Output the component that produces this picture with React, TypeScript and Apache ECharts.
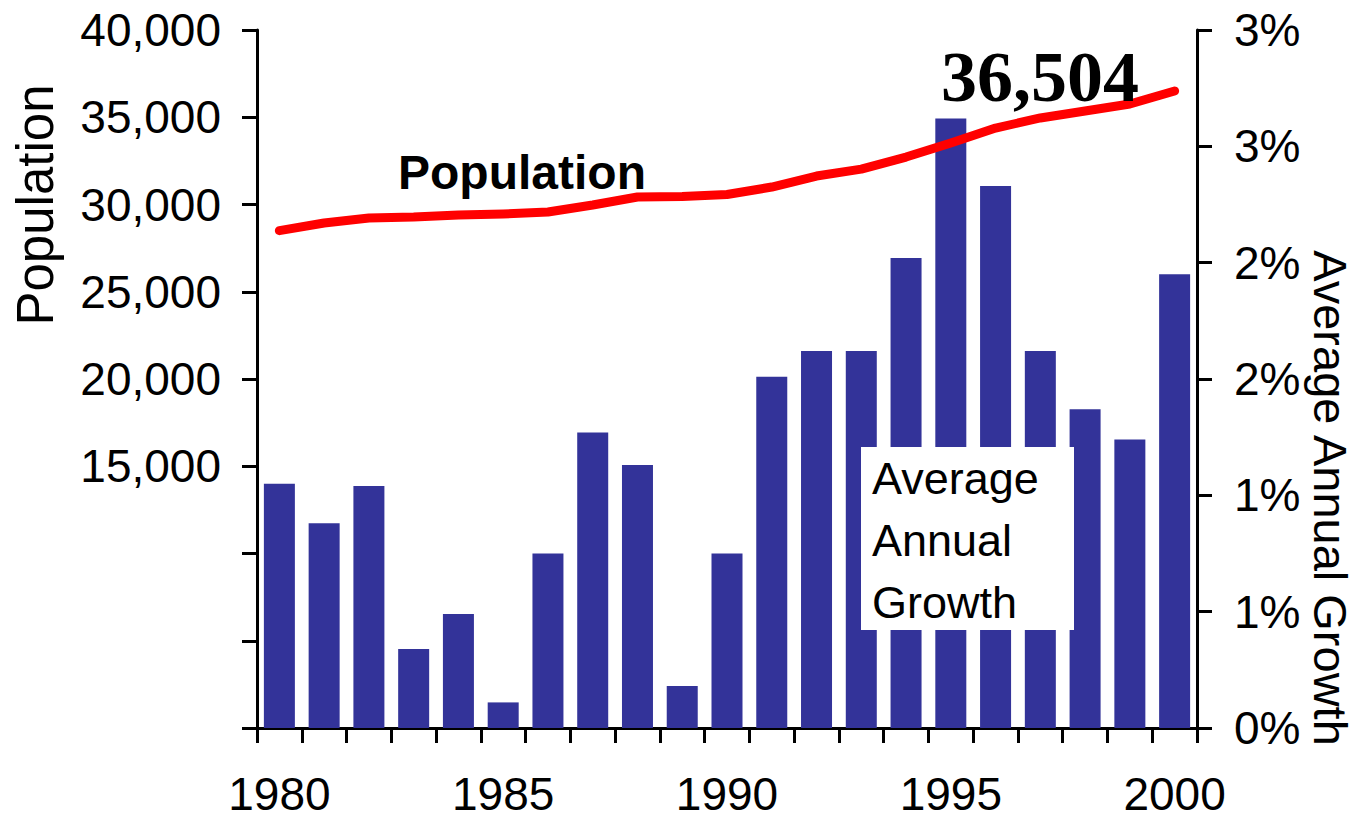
import React, { useEffect, useRef } from "react";
import * as echarts from "echarts";

const years = [
  "1980", "1981", "1982", "1983", "1984", "1985", "1986", "1987", "1988", "1989", "1990",
  "1991", "1992", "1993", "1994", "1995", "1996", "1997", "1998", "1999", "2000",
];
const population = [
  28500, 28940, 29230, 29280, 29400, 29460, 29570, 29970, 30430, 30460, 30570,
  31000, 31630, 32030, 32720, 33520, 34380, 34960, 35360, 35760, 36504,
];
const growth = [
  1.05, 0.88, 1.04, 0.34, 0.49, 0.11, 0.75, 1.27, 1.13, 0.18, 0.75,
  1.51, 1.62, 1.62, 2.02, 2.62, 2.33, 1.62, 1.37, 1.24, 1.95,
];
const popTitle = "Population";
const growthTitle = "Average Annual Growth";
const popAnnotation = "Population";
const lastValueLabel = "36,504";
const boxLines = ["Average", "Annual", "Growth"];

const SANS = "'Liberation Sans', Arial, sans-serif";
const SERIF = "'Liberation Serif', 'Times New Roman', serif";

function withCommas(v: number): string {
  return String(v).replace(/\B(?=(\d{3})+(?!\d))/g, ",");
}

export default function App() {
  const ref = useRef<HTMLDivElement>(null);
  useEffect(() => {
    if (!ref.current) return;
    const chart = echarts.init(ref.current, null, { renderer: "svg" });
    const axisLine = { show: true, lineStyle: { color: "#000", width: 3 } };
    const axisTick = { show: true, length: 15, lineStyle: { color: "#000", width: 3 } };
    chart.setOption({
      animation: false,
      backgroundColor: "#fff",
      grid: { left: 257, right: 160, top: 30, bottom: 91, containLabel: false },
      xAxis: {
        type: "category",
        data: years,
        boundaryGap: true,
        axisLine,
        axisTick: { ...axisTick, interval: 0 },
        axisLabel: {
          interval: 4,
          margin: 46,
          lineHeight: 40,
          color: "#000",
          fontFamily: SANS,
          fontSize: 46,
        },
        splitLine: { show: false },
      },
      yAxis: [
        {
          type: "value",
          position: "left",
          min: 0,
          max: 40000,
          interval: 5000,
          axisLine,
          axisTick,
          splitLine: { show: false },
          axisLabel: {
            margin: 36,
            color: "#000",
            fontFamily: SANS,
            fontSize: 46,
            formatter: (v: number) => (v >= 15000 ? withCommas(v) : ""),
          },
        },
        {
          type: "value",
          position: "right",
          min: 0,
          max: 3,
          interval: 0.5,
          axisLine,
          axisTick,
          splitLine: { show: false },
          axisLabel: {
            margin: 37,
            color: "#000",
            fontFamily: SANS,
            fontSize: 46,
            formatter: (v: number) => Math.round(v) + "%",
          },
        },
      ],
      series: [
        {
          type: "bar",
          name: "Average Annual Growth",
          yAxisIndex: 1,
          data: growth,
          barWidth: 31,
          itemStyle: { color: "#333399" },
          z: 2,
        },
        {
          type: "line",
          name: "Population",
          yAxisIndex: 0,
          data: population,
          symbol: "none",
          smooth: false,
          lineStyle: { color: "#ff0000", width: 9, cap: "round", join: "round" },
          z: 3,
        },
      ],
      graphic: [
        {
          type: "text",
          x: 35,
          y: 205,
          rotation: Math.PI / 2,
          style: {
            text: popTitle,
            font: `51px ${SANS}`,
            lineHeight: 44,
            fill: "#000",
            textAlign: "center",
            textVerticalAlign: "middle",
          },
        },
        {
          type: "text",
          x: 1330,
          y: 498,
          rotation: -Math.PI / 2,
          style: {
            text: growthTitle,
            font: `47px ${SANS}`,
            lineHeight: 36,
            fill: "#000",
            textAlign: "center",
            textVerticalAlign: "middle",
          },
        },
        {
          type: "text",
          x: 522,
          y: 172,
          z: 10,
          style: {
            text: popAnnotation,
            font: `bold 48px ${SANS}`,
            fill: "#000",
            textAlign: "center",
            textVerticalAlign: "middle",
          },
        },
        {
          type: "text",
          x: 1040,
          y: 77,
          z: 10,
          style: {
            text: lastValueLabel,
            font: `bold 72px ${SERIF}`,
            fill: "#000",
            textAlign: "center",
            textVerticalAlign: "middle",
          },
        },
        {
          type: "rect",
          z: 10,
          shape: { x: 861, y: 447, width: 213, height: 183 },
          style: { fill: "#fff" },
        },
        ...boxLines.map((t, i) => ({
          type: "text",
          x: 872,
          y: 478 + i * 62,
          z: 11,
          style: {
            text: t,
            font: `45px ${SANS}`,
            fill: "#000",
            textAlign: "left",
            textVerticalAlign: "middle",
          },
        })),
      ],
    });
    return () => chart.dispose();
  }, []);
  return (
    <div
      ref={ref}
      style={{ position: "fixed", left: 0, top: 0, width: 1357, height: 819, background: "#fff" }}
    />
  );
}
